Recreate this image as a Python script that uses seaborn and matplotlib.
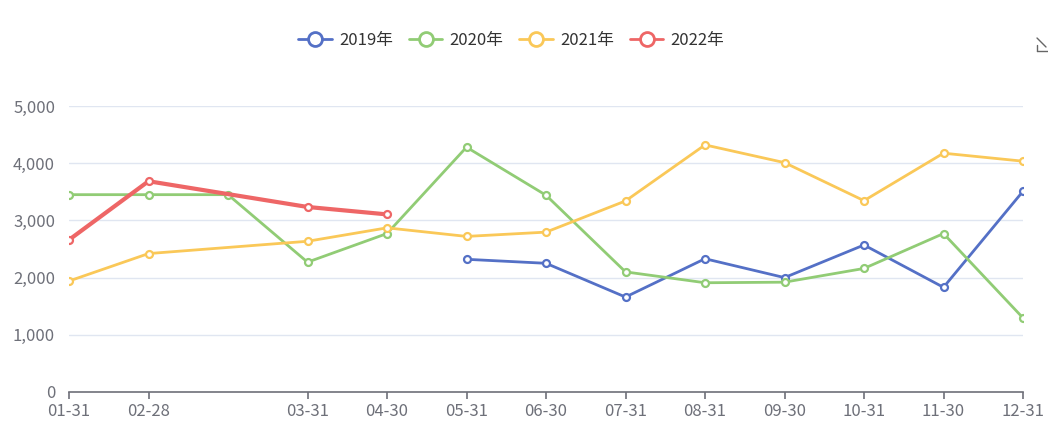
import numpy as np
import pandas as pd
import matplotlib
matplotlib.use("Agg")
import matplotlib.pyplot as plt
from matplotlib.lines import Line2D
from matplotlib.ticker import FuncFormatter
import seaborn as sns

categories = ["01-31", "02-28", "", "03-31", "04-30", "05-31", "06-30",
              "07-31", "08-31", "09-30", "10-31", "11-30", "12-31"]
years = ["2019年", "2020年", "2021年", "2022年"]
v2019 = [None, None, None, None, None, 2320, 2250, 1660, 2330, 2000, 2570, 1830, 3510]
v2020 = [3450, 3450, 3450, 2270, 2770, 4280, 3440, 2100, 1910, 1920, 2160, 2770, 1295]
v2021 = [1940, 2420, None, 2635, 2870, 2720, 2795, 3340, 4320, 4010, 3345, 4175, 4035]
v2022 = [2660, 3685, None, 3235, 3105, None, None, None, None, None, None, None, None]
colors = ["#5470c6", "#91cc75", "#fac858", "#ee6666"]
widths = [2.0, 2.0, 2.0, 3.0]

sns.set_style("white")
plt.rcParams['font.family'] = ['Noto Sans CJK SC', 'DejaVu Sans']

rows = []
for y, vals in zip(years, [v2019, v2020, v2021, v2022]):
    for i, v in enumerate(vals):
        if v is not None:
            rows.append({"pos": i, "value": v, "year": y})
df = pd.DataFrame(rows)

fig = plt.figure(figsize=(10.48, 4.37), dpi=100)
ax = fig.add_axes([69 / 1048, 45 / 437, (1023 - 69) / 1048, (392 - 106) / 437])

for y, c, w in zip(years, colors, widths):
    sub = df[df["year"] == y]
    sns.lineplot(data=sub, x="pos", y="value", ax=ax, color=c, linewidth=w,
                 marker="o", markersize=5, markerfacecolor="white",
                 markeredgecolor=c, markeredgewidth=1.6, legend=False)

ax.set_xlim(0, len(categories) - 1)
ax.set_ylim(0, 5000)
ax.set_yticks([0, 1000, 2000, 3000, 4000, 5000])
ax.yaxis.set_major_formatter(FuncFormatter(lambda v, p: f"{int(v):,}"))
tick_pos = [i for i, c in enumerate(categories) if c]
ax.set_xticks(tick_pos)
ax.set_xticklabels([categories[i] for i in tick_pos])
ax.set_xlabel("")
ax.set_ylabel("")
ax.grid(axis="y", color="#e0e6f1", linewidth=1)
ax.grid(axis="x", visible=False)
for s in ["top", "right", "left"]:
    ax.spines[s].set_visible(False)
ax.spines["bottom"].set_color("#6e7079")
ax.spines["bottom"].set_linewidth(1.2)
ax.tick_params(axis="x", colors="#6e7079", labelsize=12, length=5, width=1.2,
               direction="out", pad=3, bottom=True)
ax.tick_params(axis="y", colors="#6e7079", labelsize=12, length=0, pad=10)
for lbl in ax.get_xticklabels() + ax.get_yticklabels():
    lbl.set_color("#6e7079")

handles = [Line2D([0], [0], color=c, linewidth=2, marker="o", markersize=10,
                  markerfacecolor="white", markeredgecolor=c, markeredgewidth=2)
           for c in colors]
fig.legend(handles, years, loc="center", bbox_to_anchor=(0.488, 0.908), ncol=4,
           frameon=False, fontsize=12, handlelength=2.0, columnspacing=0.95,
           handletextpad=0.45, labelcolor="#333333")

# toolbox download icon
fig.add_artist(Line2D([1037 / 1048, 1046 / 1048], [1 - 38 / 437, 1 - 47 / 437], color="#666666", lw=1))
fig.add_artist(Line2D([1037 / 1048, 1037 / 1048], [1 - 45 / 437, 1 - 51 / 437], color="#666666", lw=1))
fig.add_artist(Line2D([1037 / 1048, 1048 / 1048], [1 - 51 / 437, 1 - 51 / 437], color="#666666", lw=1))

fig.savefig("out.png", dpi=100)
